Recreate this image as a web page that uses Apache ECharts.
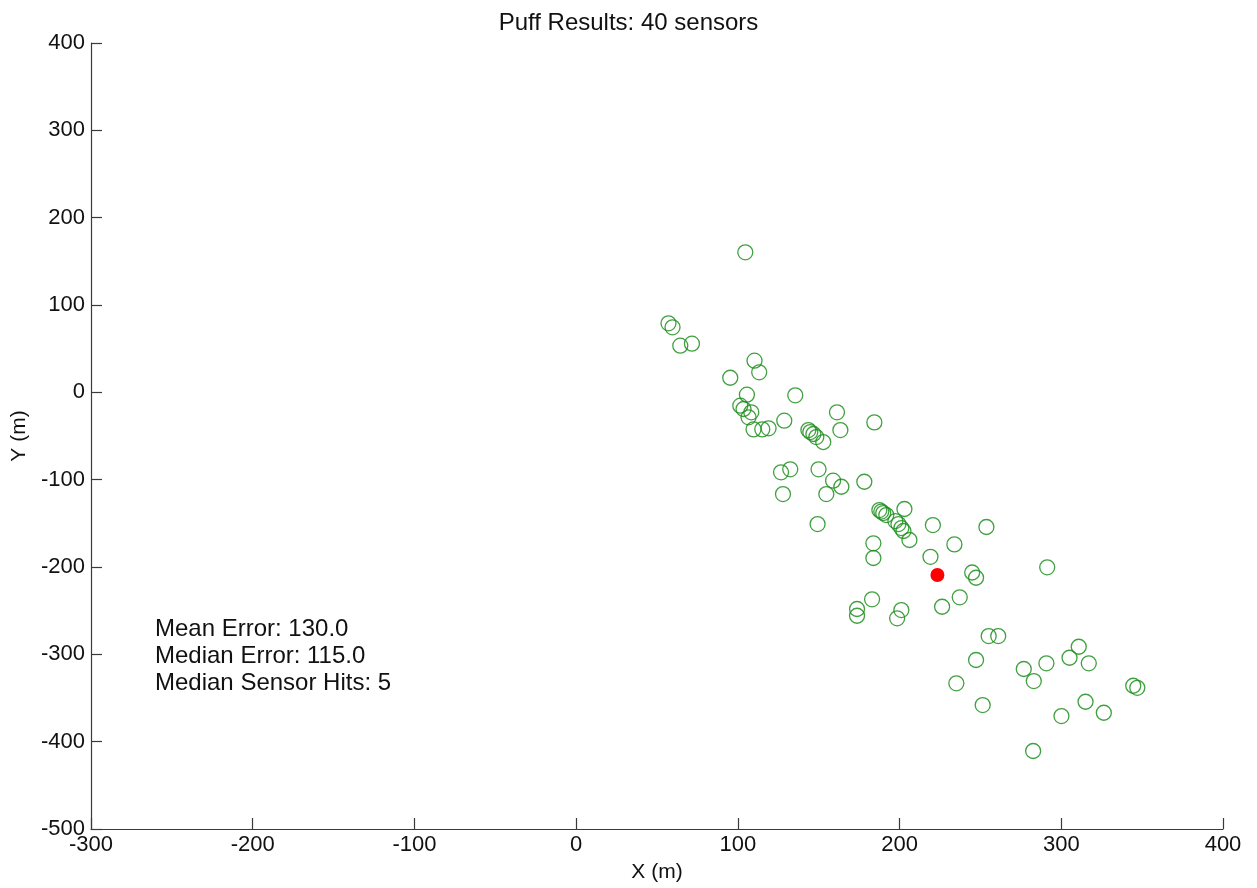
<!DOCTYPE html>
<html>
<head>
<meta charset="utf-8">
<script src="https://cdn.jsdelivr.net/npm/echarts@6/dist/echarts.min.js"></script>
<style>
html,body{margin:0;padding:0;background:#fff;}
#chart{width:1257px;height:888px;}
</style>
</head>
<body>
<div id="chart"></div>
<script>
// ---- data ----
var chartTitle = "Puff Results: 40 sensors";
var xAxisName = "X (m)";
var yAxisName = "Y (m)";
var xTicks = [-300, -200, -100, 0, 100, 200, 300, 400];
var yTicks = [-500, -400, -300, -200, -100, 0, 100, 200, 300, 400];
var statsLines = ["Mean Error: 130.0", "Median Error: 115.0", "Median Sensor Hits: 5"];

var estimateX = [104.6, 57.1, 59.6, 64.4, 71.6, 110.3, 113.2, 95.3, 135.5, 105.6,
  101.5, 103.5, 108.3, 106.6, 109.7, 115.1, 119.0, 128.7, 161.3, 163.4,
  184.4, 143.6, 144.8, 146.7, 148.5, 152.8, 126.7, 132.4, 149.9, 158.9,
  164.0, 178.2, 127.9, 154.7, 149.3, 203.0, 187.5, 188.7, 189.9, 191.8,
  197.4, 199.3, 201.1, 202.4, 206.1, 220.6, 253.7, 233.9, 183.8, 183.8,
  219.1, 244.9, 247.3, 291.3, 183.0, 173.7, 173.7, 201.1, 198.5, 226.3,
  237.2, 255.1, 261.0, 247.3, 235.1, 251.4, 276.8, 283.0, 290.8, 305.1,
  310.8, 317.0, 315.0, 300.1, 326.3, 282.6, 344.5, 347.0];
var estimateY = [160.3, 79.0, 74.4, 53.4, 55.7, 36.2, 22.9, 16.7, -3.4, -2.7,
  -15.3, -19.1, -22.9, -28.6, -42.4, -42.4, -41.2, -32.5, -22.9, -43.2,
  -34.4, -43.2, -45.5, -47.7, -51.2, -56.9, -91.6, -88.2, -88.2, -101.2,
  -108.1, -102.4, -116.5, -116.5, -150.8, -133.6, -134.8, -136.5, -138.2, -140.5,
  -147.4, -150.8, -155.4, -158.8, -169.1, -152.0, -154.2, -174.1, -172.9, -189.7,
  -188.3, -206.3, -212.3, -200.4, -237.0, -248.1, -255.8, -249.3, -258.8, -245.5,
  -234.7, -279.1, -279.1, -306.5, -333.2, -358.1, -316.8, -330.6, -310.3, -303.9,
  -291.3, -310.3, -354.3, -370.7, -366.9, -410.7, -336.0, -338.3];
var sourceX = [223.4];
var sourceY = [-209.2];

// ---- build ----
function zip(a, b) { var r = []; for (var i = 0; i < a.length; i++) r.push([a[i], b[i]]); return r; }
var FONT = "'Liberation Sans', Arial, Helvetica, sans-serif";
var axisCol = '#3a3a3a';

var chart = echarts.init(document.getElementById('chart'), null, {renderer: 'canvas'});
var option = {
  animation: false,
  backgroundColor: '#ffffff',
  title: {
    text: chartTitle, left: 'center', top: 6,
    textStyle: {fontFamily: FONT, fontSize: 24, fontWeight: 'normal', color: '#111'}
  },
  grid: {left: 91, right: 34, top: 43, bottom: 59, containLabel: false},
  xAxis: {
    type: 'value', min: xTicks[0], max: xTicks[xTicks.length - 1], interval: 100,
    name: xAxisName, nameLocation: 'middle', nameGap: 33,
    nameTextStyle: {fontFamily: FONT, fontSize: 21, color: '#111'},
    axisLine: {show: true, onZero: false, lineStyle: {color: axisCol, width: 1.2}},
    axisTick: {show: true, inside: true, length: 11, lineStyle: {color: axisCol, width: 1.2}},
    axisLabel: {fontFamily: FONT, fontSize: 22, color: '#111', margin: 5},
    splitLine: {show: false}
  },
  yAxis: {
    type: 'value', min: yTicks[0], max: yTicks[yTicks.length - 1], interval: 100,
    name: yAxisName, nameLocation: 'middle', nameGap: 55, nameRotate: 90,
    nameTextStyle: {fontFamily: FONT, fontSize: 21, color: '#111'},
    axisLine: {show: true, onZero: false, lineStyle: {color: axisCol, width: 1.2}},
    axisTick: {show: true, inside: true, length: 11, lineStyle: {color: axisCol, width: 1.2}},
    axisLabel: {fontFamily: FONT, fontSize: 22, color: '#111', margin: 6},
    splitLine: {show: false}
  },
  graphic: [{
    type: 'text', left: 155, top: 616,
    style: {
      text: statsLines.join('\n'), font: '24px ' + FONT, fill: '#111', lineHeight: 27
    }
  }],
  series: [{
    type: 'scatter', name: 'estimates',
    data: zip(estimateX, estimateY),
    symbol: 'circle', symbolSize: 15,
    itemStyle: {color: 'rgba(0,0,0,0)', borderColor: '#1f8f1f', borderWidth: 1.3, opacity: 0.85}
  }, {
    type: 'scatter', name: 'source',
    data: zip(sourceX, sourceY),
    symbol: 'circle', symbolSize: 14,
    itemStyle: {color: '#ff0000', opacity: 1}, z: 5
  }]
};
chart.setOption(option);
</script>
</body>
</html>
